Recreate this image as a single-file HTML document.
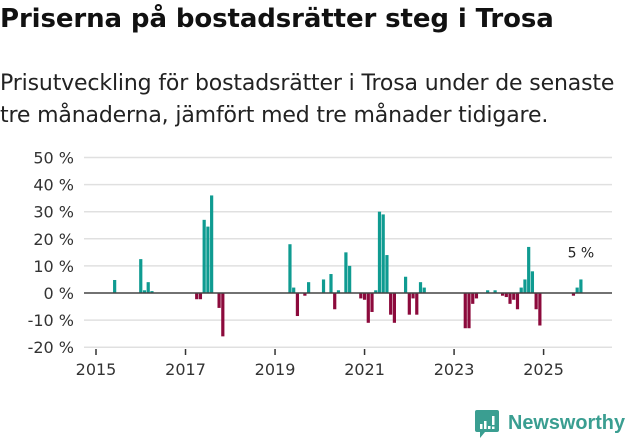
<!DOCTYPE html>
<html><head><meta charset="utf-8"><style>
body{margin:0;width:631px;height:439px;background:#fff;font-family:"Liberation Sans","DejaVu Sans",sans-serif;overflow:hidden;position:relative}
#title{position:absolute;left:0;top:4px;font-size:26px;font-weight:bold;color:#111;font-family:"DejaVu Sans",sans-serif;letter-spacing:-0.1px;white-space:nowrap}
#sub{position:absolute;left:0;top:68px;font-size:22px;line-height:32px;color:#222;font-family:"DejaVu Sans",sans-serif;letter-spacing:-0.15px;white-space:nowrap}
svg{position:absolute;left:0;top:0}
</style></head><body>
<div id="title">Priserna på bostadsrätter steg i Trosa</div>
<div id="sub">Prisutveckling för bostadsrätter i Trosa under de senaste<br>tre månaderna, jämfört med tre månader tidigare.</div>
<svg id="chart" width="631" height="439"></svg>
<script>
const months=[5,12,13,14,15,27,28,29,30,31,33,34,52,53,54,56,57,61,63,64,65,67,68,71,72,73,74,75,76,77,78,79,80,83,84,85,86,87,88,99,100,101,102,105,107,109,110,111,112,113,114,115,116,117,118,119,128,129,130];
const values=[4.8,12.5,1,4,0.7,-2.3,-2.3,27,24.5,36,-5.5,-16,18,2,-8.5,-1,4,5,7,-6,1,15,10,-2,-2.5,-11,-7,1,30,29,14,-8,-11,6,-8,-2,-8,4,2,-13,-13,-4,-2,1,1,-1,-1.5,-4,-2.5,-6,2,5,17,8,-6,-12,-1,2,5];
const yTicks=[50,40,30,20,10,0,-10,-20];
const xTicks=[2015,2017,2019,2021,2023,2025];
const svg=document.getElementById('chart');const NS='http://www.w3.org/2000/svg';
const y=v=>293-v*2.71;
const xm=m=>96+m*3.73;
const xy=yr=>xm((yr-2015)*12);
function mk(t,a){const e=document.createElementNS(NS,t);for(const k in a)e.setAttribute(k,a[k]);svg.appendChild(e);return e;}
yTicks.forEach(t=>{
 if(t!==0){const g=mk('line',{x1:84,x2:612,y1:y(t),y2:y(t),stroke:'#e0e0e0','stroke-width':1.5});
 
 }
 const l=mk('text',{x:74,y:y(t)+6,'text-anchor':'end','font-size':16,fill:'#333','font-family':'DejaVu Sans, sans-serif'});
 l.textContent=t+' %';
 
 
});
xTicks.forEach(t=>{
 const tk=mk('line',{x1:xy(t),x2:xy(t),y1:349,y2:355,stroke:'#333','stroke-width':1.5});
 
 
 const l=mk('text',{x:xy(t),y:375,'text-anchor':'middle','font-size':16,fill:'#333','font-family':'DejaVu Sans, sans-serif'});
 l.textContent=t;
 
 
});
months.forEach((m,i)=>{
 const v=values[i];
 const r=mk('rect',{x:xm(m)-1.6,width:3.2,y:Math.min(y(v),y(0)),height:Math.abs(y(v)-y(0)),fill:v>=0?'#0f9b91':'#8c0a3c'});
 
 
});
const z=mk('line',{x1:84,x2:612,y1:y(0),y2:y(0),stroke:'#444','stroke-width':1.5});


const last=months.length-1;
const ann=mk('text',{x:xm(months[last]),y:y(values[last])-22,'text-anchor':'middle','font-size':14,fill:'#222','font-family':'DejaVu Sans, sans-serif'});
ann.textContent=Math.round(values[last])+' %';


</script>
<svg width="631" height="439" style="position:absolute;left:0;top:0">
<path d="M477 410 h20 a2 2 0 0 1 2 2 v18 a2 2 0 0 1 -2 2 h-12 l-5 6 v-6 h-3 a2 2 0 0 1 -2 -2 v-18 a2 2 0 0 1 2 -2z" fill="#3a9e91"/>
<rect x="480" y="424" width="2.5" height="5" fill="#fff"/><rect x="484" y="421" width="2.5" height="8" fill="#fff"/><rect x="488" y="426" width="2.5" height="3" fill="#fff"/><rect x="492" y="416" width="2.5" height="9" fill="#fff"/><rect x="492" y="426.5" width="2.5" height="2.5" fill="#fff"/>
<text x="508" y="429" font-size="20" font-weight="bold" fill="#3a9e91" font-family="Liberation Sans, sans-serif" textLength="117" lengthAdjust="spacingAndGlyphs">Newsworthy</text>
</svg>
</body></html>
